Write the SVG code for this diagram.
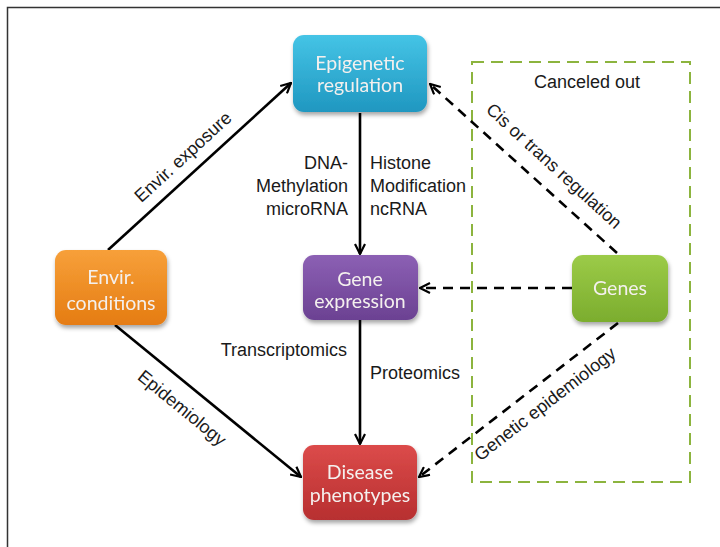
<svg xmlns="http://www.w3.org/2000/svg" width="720" height="547" viewBox="0 0 720 547">
<defs>
<style>
.lbl{font-family:"Liberation Sans",Arial,sans-serif;font-size:18px;fill:#1a1a1a}
.nt{font-family:Lato,"Open Sans",sans-serif;font-size:19.5px;fill:#f4f0ee;text-anchor:middle}
.solid{stroke:#000;stroke-width:2.6;fill:none}
.dash{stroke:#000;stroke-width:2.6;fill:none;stroke-dasharray:10 7}
</style>
<marker id="ah" viewBox="0 0 12 12" refX="11" refY="6" markerWidth="12" markerHeight="12" markerUnits="userSpaceOnUse" orient="auto">
<path d="M1,1 L11,6 L1,11" fill="none" stroke="#000" stroke-width="2.2"/>
</marker>
<linearGradient id="gB" x1="0" y1="0" x2="0" y2="1"><stop offset="0" stop-color="#45c4e6"/><stop offset="1" stop-color="#1f97c0"/></linearGradient>
<linearGradient id="gO" x1="0" y1="0" x2="0" y2="1"><stop offset="0" stop-color="#f7a03a"/><stop offset="1" stop-color="#e57c12"/></linearGradient>
<linearGradient id="gP" x1="0" y1="0" x2="0" y2="1"><stop offset="0" stop-color="#8c60b4"/><stop offset="1" stop-color="#6b4192"/></linearGradient>
<linearGradient id="gG" x1="0" y1="0" x2="0" y2="1"><stop offset="0" stop-color="#9ccb48"/><stop offset="1" stop-color="#7bad2e"/></linearGradient>
<linearGradient id="gR" x1="0" y1="0" x2="0" y2="1"><stop offset="0" stop-color="#dc4b4a"/><stop offset="1" stop-color="#b72f30"/></linearGradient>
<filter id="sh" x="-10%" y="-10%" width="130%" height="130%"><feDropShadow dx="1" dy="3" stdDeviation="2" flood-color="#000" flood-opacity="0.35"/></filter>
</defs>
<rect width="720" height="547" fill="#fff"/>
<rect x="7.5" y="7.5" width="730" height="560" fill="none" stroke="#333" stroke-width="1.5"/>
<rect id="canceled-box" x="472" y="62" width="218" height="420" fill="none" stroke="#8cb43e" stroke-width="2" stroke-dasharray="12 7"/>
<text class="lbl" x="587" y="88" text-anchor="middle" fill="#333">Canceled out</text>

<g id="connectors">
<line class="solid" x1="108" y1="250" x2="291" y2="83" marker-end="url(#ah)"/>
<line class="solid" x1="115" y1="325" x2="301" y2="477" marker-end="url(#ah)"/>
<line class="solid" x1="360" y1="113" x2="360" y2="254" marker-end="url(#ah)"/>
<line class="solid" x1="360" y1="320" x2="360" y2="444" marker-end="url(#ah)"/>
<line class="dash" x1="572" y1="288" x2="420" y2="288" marker-end="url(#ah)"/>
<line class="dash" x1="617" y1="253" x2="430" y2="84" marker-end="url(#ah)"/>
<line class="dash" x1="618" y1="323" x2="419" y2="477" marker-end="url(#ah)"/>
<text class="lbl" transform="translate(183,157) rotate(-42.5)" x="0" y="6" text-anchor="middle">Envir. exposure</text>
<text class="lbl" transform="translate(182,408) rotate(39.3)" x="0" y="6" text-anchor="middle">Epidemiology</text>
<text class="lbl" transform="translate(554,166) rotate(42.4)" x="0" y="6" text-anchor="middle">Cis or trans regulation</text>
<text class="lbl" transform="translate(545,404) rotate(-37.7)" x="0" y="6" text-anchor="middle">Genetic epidemiology</text>
<text class="lbl" x="348" y="169" text-anchor="end">DNA-</text>
<text class="lbl" x="348" y="192" text-anchor="end">Methylation</text>
<text class="lbl" x="348" y="215" text-anchor="end">microRNA</text>
<text class="lbl" x="370" y="169">Histone</text>
<text class="lbl" x="370" y="192">Modification</text>
<text class="lbl" x="370" y="215">ncRNA</text>
<text class="lbl" x="347" y="356" text-anchor="end">Transcriptomics</text>
<text class="lbl" x="370" y="379">Proteomics</text>
</g>

<g id="epigenetic" filter="url(#sh)">
<rect x="293" y="35" width="134" height="77" rx="11" fill="url(#gB)"/>
<text class="nt" x="360" y="70">Epigenetic</text>
<text class="nt" x="360" y="92">regulation</text>
</g>
<g id="envir" filter="url(#sh)">
<rect x="55" y="250" width="112" height="75" rx="11" fill="url(#gO)"/>
<text class="nt" x="111" y="284">Envir.</text>
<text class="nt" x="111" y="310">conditions</text>
</g>
<g id="gene-expression" filter="url(#sh)">
<rect x="303" y="255" width="115" height="65" rx="11" fill="url(#gP)"/>
<text class="nt" x="360" y="286">Gene</text>
<text class="nt" x="360" y="308">expression</text>
</g>
<g id="genes" filter="url(#sh)">
<rect x="572" y="255" width="96" height="67" rx="11" fill="url(#gG)"/>
<text class="nt" x="620" y="295">Genes</text>
</g>
<g id="disease" filter="url(#sh)">
<rect x="303" y="445" width="114" height="75" rx="11" fill="url(#gR)"/>
<text class="nt" x="360" y="479">Disease</text>
<text class="nt" x="360" y="502">phenotypes</text>
</g>
</svg>
